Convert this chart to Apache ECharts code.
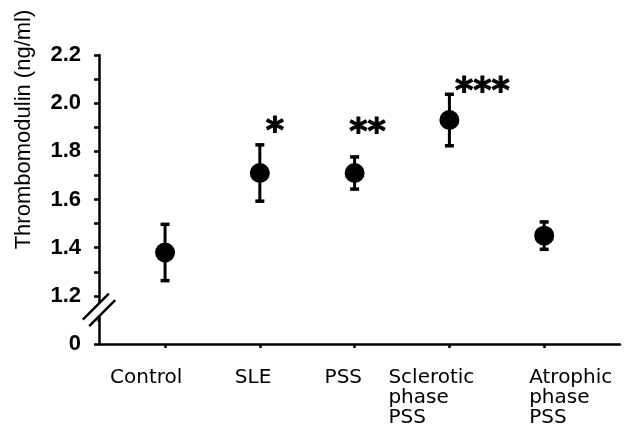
<!DOCTYPE html>
<html><head><meta charset="utf-8">
<script src="https://cdn.jsdelivr.net/npm/echarts@6/dist/echarts.min.js"></script>
<style>html,body{margin:0;padding:0;background:#fff}#c{width:629px;height:434px}</style>
</head><body><div id="c"></div>
<script>
// ---- data ----
const categories = ['Control', 'SLE', 'PSS', 'Sclerotic\nphase\nPSS', 'Atrophic\nphase\nPSS'];
const means = [1.38, 1.71, 1.71, 1.93, 1.45];
const sems = [0.12, 0.12, 0.07, 0.11, 0.06];
const stars = ['', '*', '**', '***', ''];
const yTickValues = [1.0, 1.2, 1.4, 1.6, 1.8, 2.0, 2.2];
const yTickLabels = ['0', '1.2', '1.4', '1.6', '1.8', '2.0', '2.2'];
const yName = 'Thrombomodulin (ng/ml)';

// ---- styling ----
const X_MIN = -0.697, X_MAX = 4.80;
const labelOffsets = [[-55, 24], [-25, 24], [-30, 24], [-61, 24], [-15, 24]];
const starOffsets = [[0, 0], [15, -40], [13, -39], [33, -27], [0, 0]];

const chart = echarts.init(document.getElementById('c'), null, {renderer: 'canvas'});

const idx = categories.map((c, i) => i);

chart.setOption({
  backgroundColor: '#fff',
  animation: false,
  grid: {left: 99, right: 9, top: 55, bottom: 90, containLabel: false},
  xAxis: {
    type: 'value', min: X_MIN, max: X_MAX,
    axisLine: {show: true, onZero: false, lineStyle: {color: '#000', width: 2.5}},
    axisTick: {show: true, customValues: idx, length: 4, lineStyle: {color: '#000', width: 2.5}},
    axisLabel: {show: false},
    splitLine: {show: false}
  },
  yAxis: {
    type: 'value', min: 1.0, max: 2.2, interval: 0.2,
    name: yName, nameLocation: 'middle', nameGap: 64, nameRotate: 90,
    nameTextStyle: {fontFamily: 'Liberation Sans', fontSize: 22, color: '#000', padding: [0, 0, 0, 140]},
    axisLine: {show: true, onZero: false, lineStyle: {color: '#000', width: 2.5}},
    axisTick: {show: true, inside: false, length: 5, lineStyle: {color: '#000', width: 2.5}},
    minorTick: {show: true, splitNumber: 2, length: 5, lineStyle: {color: '#000', width: 2.5}},
    axisLabel: {
      margin: 18, color: '#000', fontFamily: 'Liberation Sans', fontWeight: 'bold', fontSize: 22,
      formatter: v => {
        const k = yTickValues.findIndex(t => Math.abs(t - v) < 1e-6);
        return k >= 0 ? yTickLabels[k] : '';
      }
    },
    splitLine: {show: false}
  },
  series: [
    {
      type: 'custom', name: 'sem', z: 3,
      data: idx.map(i => [i, means[i], means[i] - sems[i], means[i] + sems[i]]),
      renderItem: (params, api) => {
        const x = api.value(0);
        const top = api.coord([x, api.value(3)]);
        const bot = api.coord([x, api.value(2)]);
        const st = {fill: '#000'};
        return {type: 'group', children: [
          {type: 'rect', shape: {x: top[0] - 1.5, y: top[1], width: 3, height: bot[1] - top[1]}, style: st},
          {type: 'rect', shape: {x: top[0] - 4.5, y: top[1] - 1, width: 9, height: 3.5}, style: st},
          {type: 'rect', shape: {x: bot[0] - 4.5, y: bot[1] - 2.5, width: 9, height: 3.5}, style: st}
        ]};
      }
    },
    {
      type: 'scatter', name: 'mean', z: 4,
      symbol: 'circle', symbolSize: 20,
      itemStyle: {color: '#000', opacity: 1},
      data: idx.map(i => ({
        value: [i, means[i]],
        label: {
          show: stars[i] !== '', formatter: stars[i], position: 'inside',
          offset: starOffsets[i], align: 'center', verticalAlign: 'middle',
          color: '#000', opacity: 1, fontFamily: 'DejaVu Sans', fontWeight: 'bold', fontSize: 35,
          textBorderColor: '#000', textBorderWidth: 1
        }
      }))
    },
    {
      type: 'scatter', name: 'catLabels', z: 2, silent: true,
      symbol: 'circle', symbolSize: 1, itemStyle: {color: 'rgba(0,0,0,0)'},
      clip: false,
      data: idx.map(i => ({
        value: [i, 1.0],
        label: {
          show: true, formatter: categories[i], position: 'inside',
          offset: labelOffsets[i], align: 'left', verticalAlign: 'top',
          color: '#000', opacity: 1, fontFamily: 'DejaVu Sans', fontSize: 20, lineHeight: 20
        }
      }))
    }
  ]
});

// axis break marks on the y axis, located through the axis scale
const p = chart.convertToPixel({gridIndex: 0}, [X_MIN, 1.2]);
const q = chart.convertToPixel({gridIndex: 0}, [X_MIN, 1.1]);
const cx = p[0], cy = p[1] + 14;
const h = 3.2, L = 13;
const line = (s) => ({
  type: 'line', z: 101,
  shape: {x1: cx + s * h - L, y1: cy + s * h + L, x2: cx + s * h + L, y2: cy + s * h - L},
  style: {stroke: '#000', lineWidth: 2.5}
});
chart.setOption({
  graphic: [
    {type: 'rect', z: 100, shape: {x: q[0] - 8, y: q[1] - 3, width: 6.5, height: 6}, style: {fill: '#fff'}},
    {type: 'polygon', z: 100, shape: {points: [
      [cx - h - L, cy - h + L], [cx - h + L, cy - h - L], [cx + h + L, cy + h - L], [cx + h - L, cy + h + L]
    ]}, style: {fill: '#fff'}},
    line(-1), line(1)
  ]
});
</script>
</body></html>
